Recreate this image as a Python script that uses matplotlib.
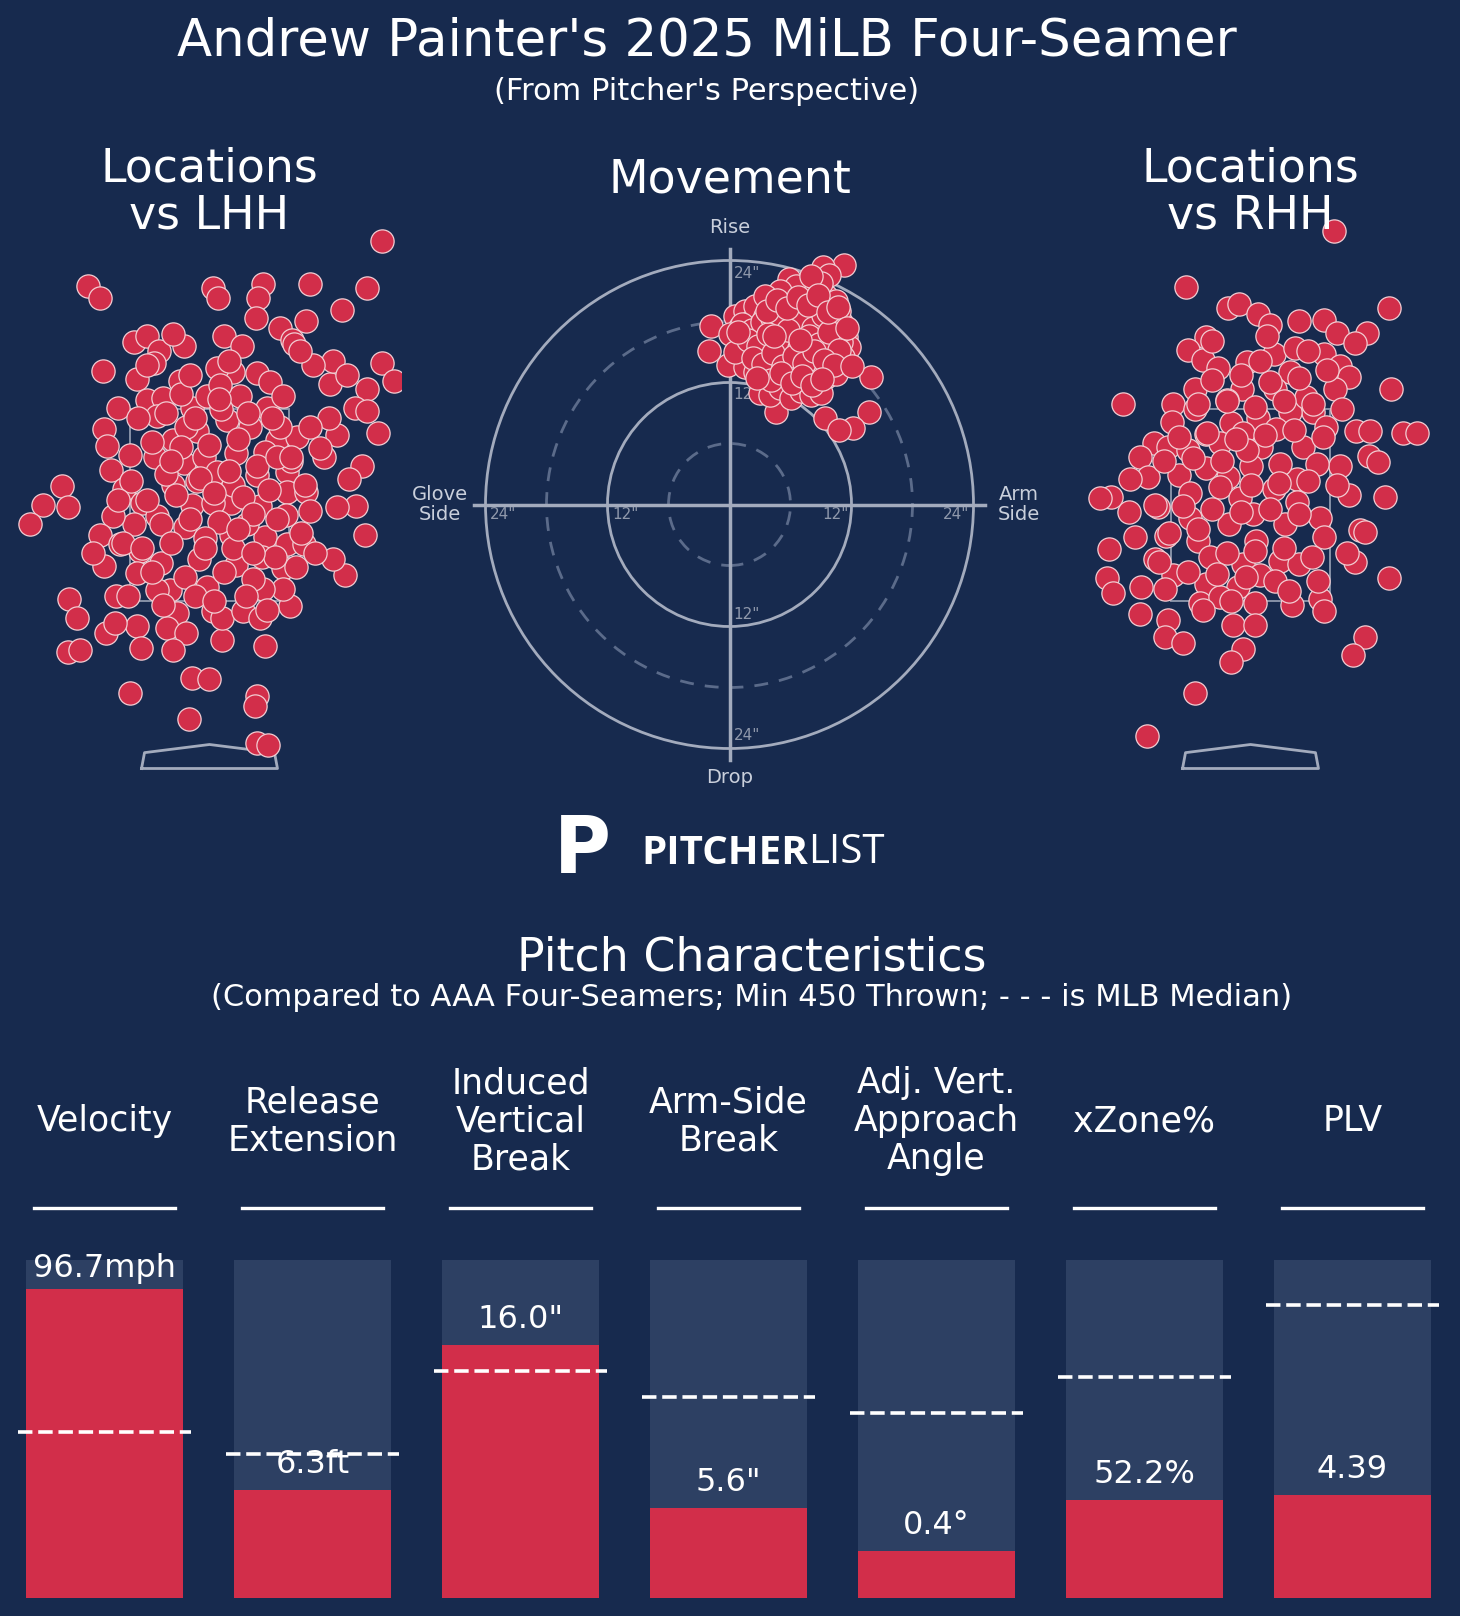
import matplotlib
matplotlib.use("Agg")
import matplotlib.pyplot as plt
from matplotlib.patches import Circle, Rectangle
import numpy as np

BG = "#172a4e"
RED = "#d22e4a"
EDGE = "#f3cdd3"
GRAY = "#2d4063"
LINE = "#a3abbd"

# ---- location data (feet from plate center, feet above ground) ----
lhh_x = [1.80,-1.27,-1.14,0.04,0.09,0.56,0.51,0.48,1.05,1.64,1.38,1.01,0.73,-1.11,-0.95,-1.54,-1.73,-1.87,-1.47,1.62,
         1.76,1.80,1.92,1.64,1.41,1.29,-1.46,-1.38,-1.47,-1.35,-1.08,-0.83,-0.21,-0.18,0.00,0.49,0.47,0.49,0.61,0.58,
         0.13,0.84,1.52,1.64,1.59,1.45,1.53,1.33,1.26,1.29,1.43,1.19,1.33,1.24,1.08,0.86,
         -0.79,-0.65,-0.53,-0.27,-0.38,-0.58,-0.76,-0.65,-0.48,-0.31,-0.18,0.15,0.34,0.25,0.08,-0.03,0.32,0.49,0.63,0.60,0.77,0.88,0.94,
         -1.10,-1.07,-0.83,-1.03,-0.89,-0.70,-0.57,-0.27,-0.13,-0.06,0.28,0.49,0.70,0.91,0.81,0.81,1.01,1.05,0.80,0.53,0.22,-0.18,-0.38,
         -0.55,-0.79,-1.00,-1.14,-0.93,-0.72,-1.10,-1.21,-0.76,-0.51,-0.25,0.22,0.58,0.81,0.98,0.77,0.77,0.56,0.28,-0.11,-0.41,-0.03,
         -0.34,0.04,0.13,0.35,0.53,-0.76,-0.44,-0.24,-0.71,-0.38,-0.97,-0.98,-0.55,0.04,0.39,0.08,-0.38,-0.55,-0.24,0.18,0.11,0.42,
         0.73,1.05,1.15,0.25,-0.13,
         -0.45,-0.15,0.12,0.40,0.65,-0.60,-0.30,0.00,0.30,0.58,-0.82,-0.45,-0.10,0.20,0.50,0.85,-0.65,-0.35,0.05,0.35,
         0.62,-0.90,-0.50,-0.20,0.10,0.45,0.70,-0.70,-0.40,-0.05,0.25,0.55,0.90,-0.60,-0.25,0.15,0.45,0.68,-0.85,-0.15,
         0.05,0.38,-0.48,0.60,0.95,-0.95,1.10,-0.30,0.70,0.20,-0.65,0.45,-0.05,0.85,-0.40,0.30,1.00,-0.75,0.10,-0.20]
lhh_z = [5.24,4.78,4.65,4.76,4.65,4.80,4.65,4.44,4.80,4.76,4.53,4.41,4.34,3.89,3.51,2.69,2.49,2.30,2.47,2.18,
         3.24,3.97,3.79,3.70,1.77,1.93,1.52,1.32,0.96,0.98,1.16,0.54,0.27,0.69,0.68,0.51,0.40,0.02,-0.01,1.03,
         1.09,1.44,3.51,3.47,2.90,2.77,2.48,2.47,3.76,3.99,3.85,2.99,3.22,3.40,3.95,4.21,
         4.19,4.26,4.10,4.15,4.28,3.97,3.81,3.59,3.61,3.79,3.51,4.26,4.15,3.88,3.92,3.63,3.63,3.87,3.78,3.51,3.63,4.17,4.10,
         3.29,3.11,3.02,2.86,2.66,2.52,2.99,2.93,3.27,2.99,3.04,2.81,3.17,3.20,2.84,2.63,2.63,2.43,2.39,2.48,2.52,2.50,2.70,
         2.38,2.30,2.38,2.18,2.09,2.02,1.86,2.00,1.79,1.89,2.27,2.18,2.16,2.09,2.09,1.84,1.62,1.62,1.87,1.93,1.61,1.64,
         1.37,1.39,1.32,1.39,1.32,1.23,1.21,1.16,1.01,0.98,1.55,1.27,1.61,2.52,2.30,2.84,3.17,3.42,3.31,3.38,3.74,3.31,
         3.31,3.31,3.09,2.70,2.74,
         3.45,3.40,3.50,3.45,3.40,3.15,3.10,3.12,3.18,3.05,2.75,2.82,2.78,2.85,2.90,2.95,2.55,2.60,2.62,2.58,
         2.65,2.10,2.30,2.35,2.32,2.40,2.35,2.05,2.10,2.15,2.05,1.95,1.85,1.80,1.75,1.80,1.72,1.95,1.55,1.55,
         1.50,1.55,1.45,1.40,2.20,2.55,2.00,3.65,3.00,4.00,3.95,2.00,2.05,3.00,2.95,2.25,2.70,3.40,3.60,3.85]

rhh_x = [0.87,-0.67,1.44,-0.23,-0.12,0.08,0.20,0.51,0.77,0.90,1.21,1.09,-0.46,-0.65,-0.50,-0.34,-0.04,0.24,0.46,0.77,
         0.93,1.03,0.41,1.46,-1.33,-0.81,-0.58,-0.09,0.25,0.88,0.65,0.41,0.08,-0.20,-0.58,-0.82,-0.46,-0.08,0.27,0.79,
         1.10,1.24,1.59,1.73,-1.01,-0.86,-1.15,-0.65,-0.32,0.11,0.55,1.23,1.33,0.93,0.69,0.48,0.31,0.01,-0.23,-0.46,
         -0.75,-1.07,-1.26,-1.45,-1.57,-1.27,-0.96,-0.63,-0.32,-0.11,0.24,0.48,0.72,1.03,1.40,1.14,1.19,0.77,0.36,0.06,
         -0.22,-0.55,-0.88,-1.20,-1.47,-1.00,-0.81,-0.42,-0.08,0.31,0.50,0.64,1.09,1.44,-1.50,-1.43,-1.14,-0.89,-0.46,-0.13,
         0.10,-0.53,-0.32,-1.15,-0.86,-0.89,-0.70,0.05,0.43,0.72,0.77,-0.18,0.05,-0.08,-0.20,1.19,1.07,-0.58,-1.08,
         0.03,-0.25,0.58,0.17,-0.04,-0.63,
         -0.40,-0.10,0.20,0.50,0.80,-0.55,-0.25,0.05,0.35,0.65,0.95,-0.75,-0.45,-0.15,0.15,0.45,0.75,-0.90,-0.60,-0.30,
         0.00,0.30,0.60,0.90,-1.00,-0.70,-0.40,-0.10,0.20,0.50,-0.85,-0.55,-0.25,0.05,0.35,-0.65,-0.35,-0.05,0.25,-0.50,
         -0.20,0.40,0.70,1.00,-0.95,0.10,-0.40,0.60]
rhh_z = [5.35,4.77,4.55,4.55,4.59,4.48,4.37,4.41,4.42,4.29,4.29,4.18,4.24,4.11,4.01,3.92,3.98,4.07,4.13,4.07,
         3.94,3.83,3.88,3.70,3.55,3.55,3.70,3.70,3.70,3.70,3.46,3.46,3.40,3.35,3.49,3.36,3.23,3.25,3.29,3.31,
         3.27,3.27,3.25,3.25,3.14,3.10,2.99,3.07,3.14,3.10,3.10,3.01,2.94,2.90,2.92,2.77,2.92,2.90,2.79,2.88,
         2.81,2.79,2.77,2.58,2.57,2.42,2.47,2.36,2.68,2.57,2.66,2.53,2.36,2.60,2.58,2.23,2.21,2.16,2.30,2.12,
         2.30,2.12,2.17,2.16,2.04,1.93,1.77,1.95,1.88,1.91,1.88,1.95,1.90,1.73,1.73,1.58,1.64,1.62,1.67,1.64,
         1.77,1.47,1.54,1.36,1.30,1.12,1.06,1.47,1.45,1.52,1.39,1.25,1.25,0.99,0.86,1.12,0.93,0.54,0.09,
         2.40,3.59,3.62,4.26,3.07,2.62,
         3.80,3.85,3.78,3.82,3.90,3.55,3.58,3.52,3.58,3.55,3.50,3.20,3.25,3.18,3.22,3.28,3.20,2.95,2.98,2.95,
         2.70,2.72,2.75,2.70,2.50,2.48,2.45,2.42,2.45,2.40,2.20,2.25,2.00,2.02,2.05,1.80,1.78,1.75,1.70,1.40,
         1.50,1.60,1.70,2.00,1.90,4.00,4.20,4.10]

# ---- movement data (inches; +x arm side, +y rise) ----
hb = [11.3,9.2,9.8,5.9,13.9,13.7,9.4,12.1,10.8,4.6,-1.8,-2.0,-0.1,
      0.5,1.0,1.5,2.0,2.5,3.0,3.5,4.0,4.5,5.0,5.5,6.0,6.5,7.0,7.5,8.0,8.5,9.0,9.5,10.0,10.5,11.0,11.5,11.8,11.2,
      10.5,10.0,9.5,9.0,8.5,8.0,7.5,7.0,6.5,6.0,5.5,5.0,4.5,4.0,3.5,3.0,2.5,2.0,1.5,1.0,1.5,2.5,3.5,4.5,5.5,6.5,
      7.5,8.5,9.5,10.5,3.0,4.0,5.0,6.0,7.0,8.0,9.0,7.5,6.5,8.5,9.5,10.5,5.0,3.5,4.0,6.0,8.0,2.0,0.0,0.5,10.8,
      11.0,5.8,3.0,7.2,9.0,8.0,6.0,
      1.2,2.2,3.2,4.2,5.2,6.2,7.2,8.2,9.2,10.2,11.2,1.8,2.8,3.8,4.8,5.8,6.8,7.8,8.8,9.8,10.8,2.3,3.3,4.3,5.3,
      6.3,7.3,8.3,9.3,10.3,3.7,4.7,5.7,6.7,7.7,8.7,9.7,10.7,4.1,5.1,6.1,7.1,8.1,9.1,0.8,11.6,12.0,2.7,4.4,6.9]
ivb = [23.6,23.4,22.6,22.2,12.5,9.1,8.5,7.5,7.3,9.1,17.6,15.1,13.7,
       18.5,17.5,19.0,18.0,19.5,17.0,18.5,19.5,17.5,18.8,20.0,18.0,19.2,17.2,18.5,19.8,18.0,19.0,17.5,18.5,17.0,18.0,16.5,15.5,14.5,
       15.5,14.0,16.0,15.0,16.5,14.5,15.8,14.0,16.0,15.0,16.5,14.5,15.8,14.0,15.5,14.2,15.8,14.8,16.0,15.2,13.5,13.0,12.5,13.2,12.0,13.0,
       12.5,13.0,12.5,12.8,11.0,10.8,11.5,10.5,11.2,10.8,11.0,21.0,21.5,21.2,20.5,20.0,21.0,20.5,17.0,17.3,17.0,16.5,16.8,15.0,19.0,
       16.0,13.8,16.5,19.5,21.8,22.5,19.5,
       17.8,17.2,18.0,18.3,17.6,16.8,18.2,17.4,18.6,16.9,17.3,16.2,15.6,16.8,16.0,17.2,15.4,16.6,15.8,17.0,15.2,14.4,13.8,14.9,13.6,
       14.6,13.9,15.1,14.2,13.7,19.0,20.1,19.3,20.4,19.6,20.6,18.9,19.4,12.2,12.9,12.0,12.6,11.8,12.3,17.0,17.4,13.6,12.4,16.6,16.2]

# ---- pitch characteristics ----
metrics = ["Velocity", "Release\nExtension", "Induced\nVertical\nBreak", "Arm-Side\nBreak",
           "Adj. Vert.\nApproach\nAngle", "xZone%", "PLV"]
value_labels = ["96.7mph", "6.3ft", "16.0\"", "5.6\"", "0.4°", "52.2%", "4.39"]
percentiles = [0.914, 0.32, 0.75, 0.266, 0.139, 0.29, 0.305]
medians = [0.49, 0.426, 0.672, 0.595, 0.547, 0.654, 0.867]

W, H = 1460, 1616
fig = plt.figure(figsize=(W/100, H/100), dpi=100, facecolor=BG)

def px_axes(x0, y0, x1, y1):
    return fig.add_axes([x0/W, 1 - y1/H, (x1-x0)/W, (y1-y0)/H])

def location_panel(x0, xs, zs):
    ax = px_axes(x0, 216.5, x0 + 384, 773.3)
    ax.set_facecolor(BG)
    ax.set_xlim(-2.0, 2.0)
    ax.set_ylim(-0.3, 5.5)
    ax.axis("off")
    ax.add_patch(Rectangle((-0.83, 1.5), 1.66, 2.0, fill=False, ec=LINE, lw=1.4, alpha=0.8, zorder=1))
    ax.plot([-0.708, -0.677, 0, 0.677, 0.708, -0.708], [-0.25, -0.085, 0, -0.085, -0.25, -0.25],
            color=LINE, lw=2, zorder=1)
    ax.scatter(xs, zs, s=280, c=RED, edgecolors=EDGE, linewidths=0.9, zorder=3)
    return ax

location_panel(17.5, lhh_x, lhh_z)
location_panel(1058.5, rhh_x, rhh_z)

# movement panel
axm = px_axes(424.5, 199.5, 1034.5, 809.5)
axm.set_facecolor(BG)
axm.set_xlim(-30, 30)
axm.set_ylim(-30, 30)
axm.axis("off")
for r, ls, col in [(6, (0, (5, 4)), "#5b6b8a"), (12, "-", LINE), (18, (0, (5, 4)), "#5b6b8a"), (24, "-", LINE)]:
    axm.add_patch(Circle((0, 0), r, fill=False, ec=col, lw=2, ls=ls, zorder=1))
axm.plot([-25.1, 25.1], [0, 0], color=LINE, lw=2.5, zorder=1)
axm.plot([0, 0], [-25.1, 25.1], color=LINE, lw=2.5, zorder=1)
tk = dict(color="#8f98ab", fontsize=11, zorder=2)
axm.text(-23.6, -1.0, '24"', ha="left", va="center", **tk)
axm.text(-11.5, -1.0, '12"', ha="left", va="center", **tk)
axm.text(11.7, -1.0, '12"', ha="right", va="center", **tk)
axm.text(23.6, -1.0, '24"', ha="right", va="center", **tk)
axm.text(0.4, 22.7, '24"', ha="left", va="center", **tk)
axm.text(0.4, 10.8, '12"', ha="left", va="center", **tk)
axm.text(0.4, -10.8, '12"', ha="left", va="center", **tk)
axm.text(0.4, -22.7, '24"', ha="left", va="center", **tk)
lab = dict(color="#c9cfdb", fontsize=14)
axm.text(0, 27.2, "Rise", ha="center", va="center", **lab)
axm.text(0, -26.9, "Drop", ha="center", va="center", **lab)
axm.text(-28.5, 0, "Glove\nSide", ha="center", va="center", linespacing=1.0, clip_on=False, **lab)
axm.text(28.5, 0, "Arm\nSide", ha="center", va="center", linespacing=1.0, clip_on=False, **lab)
axm.scatter(hb, ivb, s=280, c=RED, edgecolors=EDGE, linewidths=0.9, zorder=3)

# titles
fig.text(0.484, 1 - 41/H, "Andrew Painter's 2025 MiLB Four-Seamer", ha="center", va="center", color="white", fontsize=37)
fig.text(0.484, 1 - 91/H, "(From Pitcher's Perspective)", ha="center", va="center", color="white", fontsize=22)
fig.text(209.5/W, 1 - 192.5/H, "Locations\nvs LHH", ha="center", va="center", color="white", fontsize=33, linespacing=1.05)
fig.text(1250.5/W, 1 - 192.5/H, "Locations\nvs RHH", ha="center", va="center", color="white", fontsize=33, linespacing=1.05)
fig.text(729.5/W, 1 - 180/H, "Movement", ha="center", va="center", color="white", fontsize=33)

# logo
fig.text(582/W, 1 - 851/H, "P", ha="center", va="center", color="white", fontsize=56, fontweight="bold", family="DejaVu Sans")
fig.text(808/W, 1 - 853/H, "PITCHER", ha="right", va="center", color="white", fontsize=29, fontweight="bold", family="Open Sans")
fig.text(808/W, 1 - 853/H, "LIST", ha="left", va="center", color="white", fontsize=29, fontweight="normal", family="Open Sans")

fig.text(0.515, 1 - 958/H, "Pitch Characteristics", ha="center", va="center", color="white", fontsize=33)
fig.text(0.515, 1 - 997/H, "(Compared to AAA Four-Seamers; Min 450 Thrown; - - - is MLB Median)",
         ha="center", va="center", color="white", fontsize=22)

# bars
axb = px_axes(0.5, 1260, 1456.5, 1598)
axb.set_facecolor(BG)
axb.set_xlim(-0.5, 6.5)
axb.set_ylim(0, 1)
axb.axis("off")
idx = np.arange(len(metrics))
axb.bar(idx, [1]*len(idx), width=0.755, color=GRAY, zorder=1)
axb.bar(idx, percentiles, width=0.755, color=RED, zorder=2)
for i in idx:
    axb.plot([i-0.415, i+0.415], [medians[i]]*2, color="white", lw=2.6, ls=(0, (4, 1.6)), zorder=4, clip_on=False)
    axb.text(i, min(percentiles[i] + 0.075, 0.975), value_labels[i], ha="center", va="center",
             color="white", fontsize=23, zorder=3)
    axb.plot([i-0.34, i+0.34], [1.154]*2, color="white", lw=2.4, clip_on=False)
    axb.text(i, 1.411, metrics[i], ha="center", va="center", color="white", fontsize=25,
             linespacing=1.15, clip_on=False)

fig.savefig("out.png", dpi=100, facecolor=BG)
